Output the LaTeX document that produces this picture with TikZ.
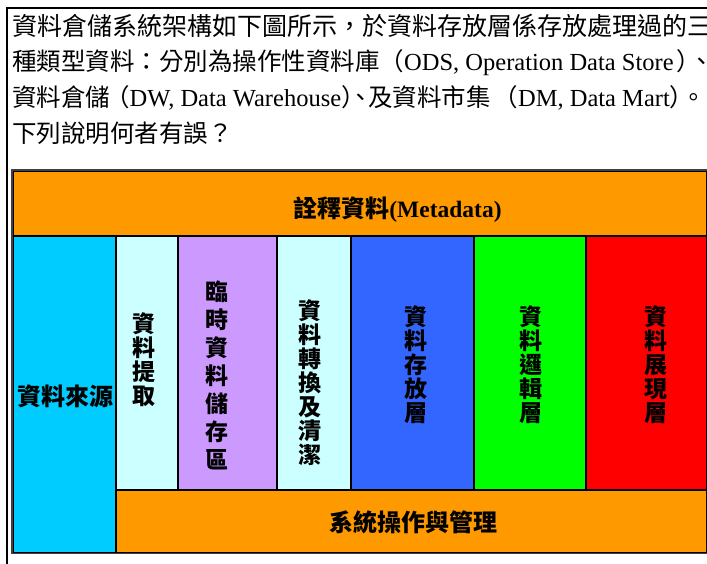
\documentclass[tikz,border=0pt]{standalone}
\usepackage{fontspec}
\setmainfont{Liberation Serif}
\newfontfamily\cjk{Noto Sans CJK TC}
\definecolor{metaor}{HTML}{FF9900}
\definecolor{srccyan}{HTML}{00CCFF}
\definecolor{ltcyan}{HTML}{CCFFFF}
\definecolor{lilac}{HTML}{CC99FF}
\definecolor{royal}{HTML}{3366FF}
\definecolor{lime}{HTML}{00FF00}
\definecolor{purered}{HTML}{FF0000}
\tikzset{
  cell/.style={draw=black, line width=1.5pt, inner sep=0pt, anchor=north west},
  para/.style={inner sep=0pt, anchor=base west, font=\fontsize{24.5}{30}\selectfont},
  htext/.style={inner sep=0pt, font=\cjk\bfseries\fontsize{24}{28}\selectfont},
  vtext/.style={inner sep=0pt, align=center, font=\cjk\bfseries\fontsize{23}{24}\selectfont},
  vtextwide/.style={inner sep=0pt, align=center, font=\cjk\bfseries\fontsize{23}{28}\selectfont},
  frameline/.style={draw=black, line width=2pt},
}
\begin{document}
\begin{tikzpicture}[x=1pt,y=-1pt]
\useasboundingbox (0,0) rectangle (707,563);
\clip (0,0) rectangle (707,563);
\fill[white] (0,0) rectangle (707,563);
% outer frame
\coordinate (fb) at (7,570);
\coordinate (fc) at (7,8);
\coordinate (fr) at (720,8);
\draw[frameline] (fb) -- (fc) -- (fr);
% paragraph
\node[para] (l1) at (12,35) {\cjk\fontsize{25}{30}\selectfont 資料倉儲系統架構如下圖所示，於資料存放層係存放處理過的三};
\node[para] (l2) at (12,70.5) {{\cjk 種類型資料：分別為操作性資料庫（}ODS, Operation Data Store{\cjk\kern3pt\makebox[13pt][l]{）}、}};
\node[para] (l3) at (12,106) {{\cjk 資料倉儲\makebox[19.5pt][r]{（}}DW, Data Warehouse{\cjk\makebox[12pt][l]{）}\makebox[15pt][c]{、}及資料市集\makebox[27.5pt][r]{（}}DM, Data Mart{\cjk\makebox[12pt][l]{）}。}};
\node[para] (l4) at (12,142) {\cjk 下列說明何者有誤？};
% cells
\node[cell, fill=metaor, minimum width=694pt, minimum height=65pt] (meta) at (12,170) {};
\node[cell, fill=srccyan, minimum width=103pt, minimum height=317pt] (src) at (12,235) {};
\node[cell, fill=ltcyan, minimum width=62pt, minimum height=254pt] (ext) at (115,235) {};
\node[cell, fill=lilac, minimum width=99pt, minimum height=254pt] (tmp) at (177,235) {};
\node[cell, fill=ltcyan, minimum width=74pt, minimum height=254pt] (trn) at (276,235) {};
\node[cell, fill=royal, minimum width=123pt, minimum height=254pt] (sto) at (350,235) {};
\node[cell, fill=lime, minimum width=112pt, minimum height=254pt] (lgc) at (473,235) {};
\node[cell, fill=purered, minimum width=121pt, minimum height=254pt] (prs) at (585,235) {};
\node[cell, fill=metaor, minimum width=591pt, minimum height=63pt] (ops) at (115,489) {};
\draw[black!75, line width=1.2pt] (meta.north west) rectangle (ops.south east);
% labels
\node[htext] (metatxt) at (397.5,210) {詮釋資料{\rmfamily\bfseries\fontsize{23.5}{28}\selectfont(Metadata)}};
\node[htext] (srctxt) at (65,396) {資料來源};
\node[htext] (opstxt) at (413,522) {系統操作與管理};
\node[vtext] (exttxt) at (143.5,360) {資\\料\\提\\取};
\node[vtextwide] (tmptxt) at (217,375) {臨\\時\\資\\料\\儲\\存\\區};
\node[vtext] (trntxt) at (310,382.5) {資\\料\\轉\\換\\及\\清\\潔};
\node[vtext] (stotxt) at (416,365) {資\\料\\存\\放\\層};
\node[vtext] (lgctxt) at (531,365) {資\\料\\邏\\輯\\層};
\node[vtext] (prstxt) at (656,365) {資\\料\\展\\現\\層};
\end{tikzpicture}
\end{document}
